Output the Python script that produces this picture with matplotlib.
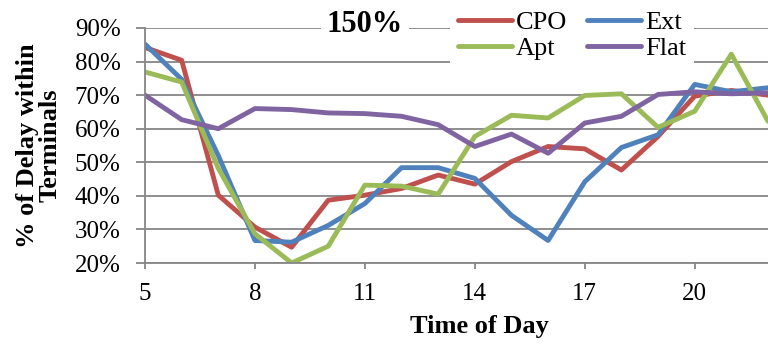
import numpy as np
import matplotlib.pyplot as plt

hours = list(range(5, 23))
cpo = [84.2, 80.4, 40.2, 30.7, 24.7, 38.7, 40.2, 42.2, 46.2, 43.5, 50.2, 54.7, 54.0, 47.7, 57.7, 69.7, 71.4, 70.0]
ext = [85.2, 74.7, 52.0, 26.7, 26.2, 31.2, 37.7, 48.4, 48.4, 45.2, 34.2, 26.7, 44.2, 54.4, 58.2, 73.2, 71.0, 72.2]
apt = [76.9, 73.9, 48.2, 28.7, 20.0, 25.0, 43.2, 42.9, 40.5, 57.7, 64.0, 63.2, 69.9, 70.4, 60.4, 65.2, 82.2, 62.2]
flat = [70.0, 62.7, 60.0, 66.0, 65.7, 64.7, 64.5, 63.7, 61.2, 54.7, 58.4, 52.7, 61.7, 63.7, 70.2, 71.0, 70.4, 70.7]
xticks = [5, 8, 11, 14, 17, 20]
yticks = [20, 30, 40, 50, 60, 70, 80, 90]

plt.rcParams['font.family'] = ['Liberation Serif', 'DejaVu Serif']

fig = plt.figure(figsize=(7.68, 3.44), dpi=100)
ax = fig.add_axes([145 / 768, 1 - 263 / 344, 623 / 768, 235 / 344])

lw = 3.5
style = dict(lw=lw, solid_joinstyle='round', solid_capstyle='round')
l1, = ax.plot(hours, cpo, color='#C0504D', label='CPO', **style)
l2, = ax.plot(hours, ext, color='#4F81BD', label='Ext', **style)
l3, = ax.plot(hours, apt, color='#9BBB59', label='Apt', **style)
l4, = ax.plot(hours, flat, color='#8064A2', label='Flat', **style)

gray = '#868686'
ax.set_xlim(5, 22)
ax.set_ylim(20, 90)
ax.set_xticks(xticks)
ax.set_yticks(yticks)
ax.set_yticklabels([f'{v}%' for v in yticks])
ax.tick_params(labelsize=18, color=gray, width=1.3)
ax.tick_params(axis='x', length=4.5, pad=10)
ax.tick_params(axis='y', length=6.5, pad=11)
ax.grid(axis='y', color=gray, lw=1.3)
ax.set_axisbelow(True)
for s in ['top', 'right']:
    ax.spines[s].set_visible(False)
for s in ['left', 'bottom']:
    ax.spines[s].set_color(gray)
    ax.spines[s].set_linewidth(1.3)

ax.set_xlabel('Time of Day', fontsize=19, fontweight='bold')
ax.xaxis.set_label_coords((479 - 145) / 623, -(327 - 263) / 235)
ax.xaxis.label.set_va('center')
ax.set_ylabel('% of Delay within\nTerminals', fontsize=19, fontweight='bold',
              linespacing=1.0)
ax.yaxis.set_label_coords(-(145 - 39) / 623, 0.5)
ax.yaxis.label.set_va('center')

fig.text(365 / 768, 1 - 25 / 344, '150%', fontsize=22, fontweight='bold',
         ha='center', va='center',
         bbox=dict(facecolor='white', edgecolor='none', pad=4))

fig.legend([l1, l3, l2, l4], ['CPO', 'Apt', 'Ext', 'Flat'], ncol=2,
           loc='upper left', bbox_to_anchor=(437 / 768, 1.03), fontsize=19,
           frameon=True, facecolor='white', edgecolor='none', framealpha=1,
           fancybox=False, handlelength=2.05, handletextpad=0.15, columnspacing=0.75,
           labelspacing=0.08, borderpad=0.3)

fig.savefig('out.png', dpi=100)
